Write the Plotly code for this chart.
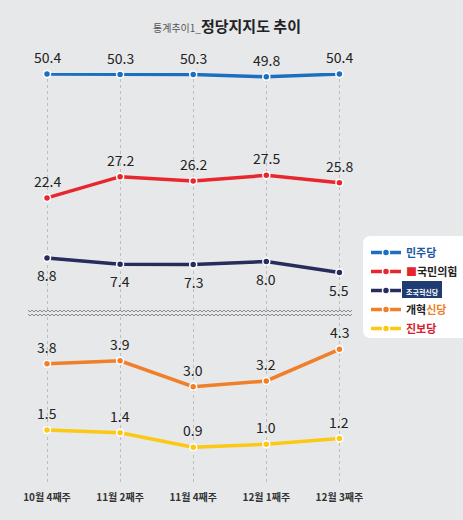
import numpy as np
import plotly.graph_objects as go

# ---- data ----
weeks = ["10월 4째주", "11월 2째주", "11월 4째주", "12월 1째주", "12월 3째주"]

minju = [50.4, 50.3, 50.3, 49.8, 50.4]        # 더불어민주당
ppp = [22.4, 27.2, 26.2, 27.5, 25.8]          # 국민의힘
rebuild = [8.8, 7.4, 7.3, 8.0, 5.5]           # 조국혁신당
reform = [3.8, 3.9, 3.0, 3.2, 4.3]            # 개혁신당
progressive = [1.5, 1.4, 0.9, 1.0, 1.2]       # 진보당

W, H = 463, 520
BG = "#e7e8ea"
FONT = "Noto Sans CJK KR"

def py(px):
    # pixel row -> paper y
    return 1 - px / H

def pxx(px):
    return px / W

xi = list(range(len(weeks)))

fig = go.Figure()

series = [
    ("<b><span style='color:#1d56a5'>민주당</span></b>", minju, "#1b6fbf", "2"),
    ("<b><span style='color:#e3262e'>■</span><span style='color:#222'>국민의힘</span></b>", ppp, "#e8262e", "2"),
    ("<b><span style='color:#ffffff;font-size:7px'>조국혁신당</span></b>", rebuild, "#262c5c", "2"),
    ("<b><span style='color:#222'>개혁</span><span style='color:#f07f2a'>신당</span></b>", reform, "#f07f2a", ""),
    ("<b><span style='color:#d7202e'>진보당</span></b>", progressive, "#fcc813", ""),
]

for name, vals, col, ax in series:
    fig.add_trace(go.Scatter(
        x=xi, y=vals, name=name, mode="lines+markers",
        xaxis="x" + ax, yaxis="y" + ax,
        line=dict(color=col, width=3.5),
        marker=dict(color=col, size=7, line=dict(color="white", width=1.5)),
        cliponaxis=False, hoverinfo="skip",
    ))

# value labels (조국혁신당 labels sit under the line)
for k, (name, vals, col, ax) in enumerate(series):
    under = (k == 2)
    for i, v in enumerate(vals):
        fig.add_annotation(
            x=xi[i], y=v, xref="x" + ax, yref="y" + ax,
            text=f"{v:.1f}", showarrow=False,
            yshift=-17 if under else 17,
            font=dict(family=FONT, size=14, color="#222"),
        )

# axis break: two wavy lines
zx = np.arange(28, 354, 2)
for row in (311, 315):
    zy = row + np.where(np.arange(len(zx)) % 2 == 0, -0.9, 0.9)
    path = "M " + " L ".join(f"{pxx(a):.5f},{py(b):.5f}" for a, b in zip(zx, zy))
    fig.add_shape(type="path", path=path, xref="paper", yref="paper",
                  line=dict(color="#8a8a8a", width=1), layer="above")

# legend box (white, rounded on left)
lx0, lx1, ly0, ly1, r = 363, 475, 236, 338, 8
box = (f"M {pxx(lx0 + r)},{py(ly0)} L {pxx(lx1)},{py(ly0)} L {pxx(lx1)},{py(ly1)} "
       f"L {pxx(lx0 + r)},{py(ly1)} Q {pxx(lx0)},{py(ly1)} {pxx(lx0)},{py(ly1 - r)} "
       f"L {pxx(lx0)},{py(ly0 + r)} Q {pxx(lx0)},{py(ly0)} {pxx(lx0 + r)},{py(ly0)} Z")
fig.add_shape(type="path", path=box, xref="paper", yref="paper",
              fillcolor="white", line=dict(width=0), layer="below")
# navy badge behind 조국혁신당
fig.add_shape(type="rect", xref="paper", yref="paper",
              x0=pxx(402), x1=pxx(442), y0=py(298), y1=py(281),
              fillcolor="#1f3b73", line=dict(width=0), layer="above")

# title
fig.add_annotation(
    x=pxx(227), y=py(25), xref="paper", yref="paper", showarrow=False,
    yanchor="middle",
    text="<span style='font-size:10px;color:#555'>통계추이1_</span>"
         "<b><span style='font-size:15px;color:#222'>정당지지도 추이</span></b>",
    font=dict(family=FONT),
)

# pixel layout of the two panels
x_range = [-47 / 73.1, (W - 47) / 73.1]
up_top, up_bot = 73, 313
lo_top, lo_bot = 317, 485

def upper_v(px):
    return 50.2 + (75 - px) / 4.42

def lower_v(px):
    return 4.3 + (349.3 - px) / 28.8

grid = dict(showgrid=True, gridcolor="#bdbdbd", gridwidth=1, griddash="dot",
            zeroline=False, showline=False, tickmode="array", tickvals=xi)

fig.update_layout(
    width=W, height=H,
    margin=dict(l=0, r=0, t=0, b=0),
    paper_bgcolor=BG, plot_bgcolor=BG,
    font=dict(family=FONT, color="#222"),
    showlegend=True,
    legend=dict(
        x=pxx(366), y=py(238), xanchor="left", yanchor="top",
        bgcolor="rgba(0,0,0,0)", borderwidth=0,
        font=dict(family=FONT, size=11),
        itemwidth=30, tracegroupgap=0,
    ),
    xaxis=dict(domain=[0, 1], range=x_range, anchor="y",
               ticktext=weeks, ticklabelstandoff=5,
               tickfont=dict(family=FONT, size=10, color="#333", weight="bold"),
               ticks="", **grid),
    xaxis2=dict(domain=[0, 1], range=x_range, anchor="y2", matches="x",
                showticklabels=False, ticks="", **grid),
    yaxis=dict(domain=[py(lo_bot), py(lo_top)],
               range=[lower_v(lo_bot), lower_v(lo_top)],
               visible=False, showgrid=False, zeroline=False),
    yaxis2=dict(domain=[py(up_bot), py(up_top)],
                range=[upper_v(up_bot), upper_v(up_top)],
                visible=False, showgrid=False, zeroline=False),
)

# page body has a default 8px margin; drop it so the chart fills the window
fig.write_html("out.html", config={"displayModeBar": False},
               post_script="document.body.style.margin='0';")
